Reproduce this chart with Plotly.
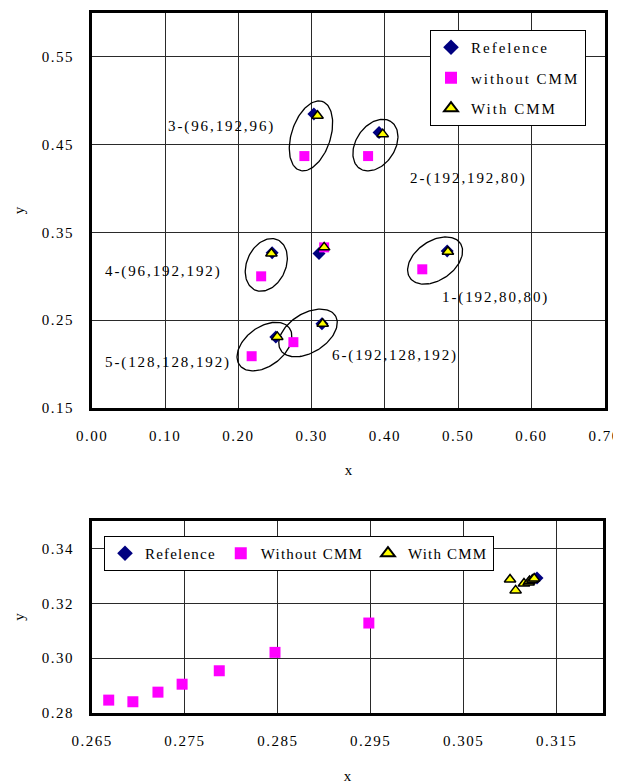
import numpy as np
import plotly.graph_objects as go

# ---------------- data (top chart) ----------------
ref_x = [0.485, 0.392, 0.303, 0.246, 0.251, 0.314, 0.310]
ref_y = [0.329, 0.464, 0.485, 0.327, 0.231, 0.246, 0.326]
wo_x = [0.451, 0.377, 0.290, 0.231, 0.218, 0.275, 0.317]
wo_y = [0.308, 0.437, 0.437, 0.300, 0.209, 0.225, 0.333]
w_x = [0.486, 0.397, 0.308, 0.245, 0.253, 0.315, 0.317]
w_y = [0.328, 0.462, 0.483, 0.326, 0.231, 0.246, 0.333]
color_labels = ["1-(192,80,80)", "2-(192,192,80)", "3-(96,192,96)",
                "4-(96,192,192)", "5-(128,128,192)", "6-(192,128,192)"]
label_x = [0.475, 0.431, 0.101, 0.015, 0.015, 0.325]
label_y = [0.276, 0.412, 0.471, 0.306, 0.202, 0.210]
x1_ticks = [0.0, 0.1, 0.2, 0.3, 0.4, 0.5, 0.6, 0.7]
x1_ticktext = ["0.00", "0.10", "0.20", "0.30", "0.40", "0.50", "0.60", "0.70"]
y1_ticks = [0.15, 0.25, 0.35, 0.45, 0.55]
y1_ticktext = ["0.15", "0.25", "0.35", "0.45", "0.55"]

# ---------------- data (bottom chart) ----------------
b_ref_x = [0.3129]
b_ref_y = [0.3292]
b_wo_x = [0.2668, 0.2694, 0.2721, 0.2747, 0.2787, 0.2847, 0.2948]
b_wo_y = [0.2847, 0.2841, 0.2876, 0.2905, 0.2954, 0.3021, 0.3128]
b_w_x = [0.3100, 0.3106, 0.3115, 0.3120, 0.3121, 0.3124, 0.3126]
b_w_y = [0.3287, 0.3247, 0.3272, 0.3276, 0.3281, 0.3286, 0.3290]
x2_ticks = [0.265, 0.275, 0.285, 0.295, 0.305, 0.315]
x2_ticktext = ["0.265", "0.275", "0.285", "0.295", "0.305", "0.315"]
y2_ticks = [0.28, 0.30, 0.32, 0.34]
y2_ticktext = ["0.28", "0.30", "0.32", "0.34"]

FONT = "Liberation Serif, Times New Roman, serif"
OFF = 8  # page body margin
W, H = 621 - OFF, 784 - OFF
ML, MR, MT, MB = 92 - OFF, 16, 13 - OFF, 71
plot_w = W - ML - MR
plot_h = H - MT - MB
top_dom = [(713 - 408) / plot_h, 1.0]
bot_dom = [0.0, (713 - 521) / plot_h]
x1_range = [0.0, 0.7005]
y1_range = [0.15, 0.60]

NAVY = "#000080"
MAG = "#FF00FF"
YEL = "#FFFF00"


def sp(text, ls=2.0):
    return f'<span style="letter-spacing:{ls}px">{text}</span>'


fig = go.Figure()

# ellipses around (without, with) pairs, computed in pixel space
sx = plot_w / (x1_range[1] - x1_range[0])
sy = plot_h * (top_dom[1] - top_dom[0]) / (y1_range[1] - y1_range[0])
t = np.linspace(0, 2 * np.pi, 120)
for i in range(6):
    p1 = np.array([wo_x[i] * sx, wo_y[i] * sy])
    p2 = np.array([w_x[i] * sx, w_y[i] * sy])
    c = (p1 + p2) / 2
    d = p2 - p1
    L = np.hypot(*d)
    u = d / L
    v = np.array([-u[1], u[0]])
    a, b = L / 2 + 15, 19.5
    ex = (c[0] + a * np.cos(t) * u[0] + b * np.sin(t) * v[0]) / sx
    ey = (c[1] + a * np.cos(t) * u[1] + b * np.sin(t) * v[1]) / sy
    fig.add_trace(go.Scatter(x=ex, y=ey, mode="lines", line=dict(color="black", width=1.3),
                             showlegend=False, hoverinfo="skip", xaxis="x", yaxis="y"))

fig.add_trace(go.Scatter(x=ref_x, y=ref_y, mode="markers", name=sp("Refelence"),
                         marker=dict(symbol="diamond", size=10, color=NAVY),
                         xaxis="x", yaxis="y", legend="legend", legendgroup="a"))
fig.add_trace(go.Scatter(x=wo_x, y=wo_y, mode="markers", name=sp("without CMM"),
                         marker=dict(symbol="square", size=10, color=MAG),
                         xaxis="x", yaxis="y", legend="legend", legendgroup="b"))
fig.add_trace(go.Scatter(x=w_x, y=w_y, mode="markers", name=sp("With CMM"),
                         marker=dict(symbol="triangle-up", size=10, color=YEL,
                                     line=dict(color="black", width=1.5)),
                         xaxis="x", yaxis="y", legend="legend", legendgroup="c"))

fig.add_trace(go.Scatter(x=b_ref_x, y=b_ref_y, mode="markers", name=sp("Refelence", 1.2),
                         marker=dict(symbol="diamond", size=10, color=NAVY),
                         xaxis="x2", yaxis="y2", legend="legend2"))
fig.add_trace(go.Scatter(x=b_wo_x, y=b_wo_y, mode="markers", name=sp("Without CMM", 1.2),
                         marker=dict(symbol="square", size=11, color=MAG),
                         xaxis="x2", yaxis="y2", legend="legend2"))
fig.add_trace(go.Scatter(x=b_w_x, y=b_w_y, mode="markers", name=sp("With CMM", 1.2),
                         marker=dict(symbol="triangle-up", size=10, color=YEL,
                                     line=dict(color="black", width=1.5)),
                         xaxis="x2", yaxis="y2", legend="legend2"))

for txt, lx, ly in zip(color_labels, label_x, label_y):
    fig.add_annotation(x=lx, y=ly, xref="x", yref="y", text=sp(txt, 1.9), showarrow=False,
                       xanchor="left", yanchor="middle",
                       font=dict(family=FONT, size=15, color="black"))

axis_common = dict(showline=True, linewidth=3, linecolor="black", mirror=True,
                   showgrid=True, gridcolor="#2a2a2a", gridwidth=1, zeroline=False,
                   ticks="", tickfont=dict(family=FONT, size=15, color="black"),
                   ticklabelstandoff=12, automargin=False, tickmode="array",
                   title_font=dict(family=FONT, size=15, color="black"))

fig.update_layout(
    width=W, height=H,
    margin=dict(l=ML, r=MR, t=MT, b=MB),
    paper_bgcolor="white", plot_bgcolor="white",
    font=dict(family=FONT, size=15, color="black"),
    xaxis=dict(axis_common, domain=[0, 1], range=x1_range, anchor="y",
               tickvals=x1_ticks, ticktext=[sp(s, 1.5) for s in x1_ticktext],
               title=dict(text="x", standoff=22)),
    yaxis=dict(axis_common, domain=top_dom, range=y1_range, anchor="x",
               tickvals=y1_ticks, ticktext=[sp(s, 1.5) for s in y1_ticktext],
               title=dict(text="y", standoff=14)),
    xaxis2=dict(axis_common, domain=[0, 0.996], range=[0.265, 0.32], anchor="y2",
                tickvals=x2_ticks, ticktext=[sp(s, 1.5) for s in x2_ticktext],
                title=dict(text="x", standoff=26)),
    yaxis2=dict(axis_common, domain=bot_dom, range=[0.28, 0.35], anchor="x2",
                tickvals=y2_ticks, ticktext=[sp(s, 1.5) for s in y2_ticktext],
                title=dict(text="y", standoff=14)),
    legend=dict(x=(430 - 92) / plot_w, y=(713 - 30) / plot_h, xanchor="left", yanchor="top",
                bgcolor="white", bordercolor="black", borderwidth=1,
                font=dict(family=FONT, size=15, color="black"),
                tracegroupgap=8, itemsizing="constant"),
    legend2=dict(x=(104 - 92) / plot_w, y=(713 - 536) / plot_h, xanchor="left", yanchor="top",
                 orientation="h", bgcolor="white", bordercolor="black", borderwidth=1,
                 font=dict(family=FONT, size=15, color="black"), itemsizing="constant"),
)

fig.write_html("out.html")
